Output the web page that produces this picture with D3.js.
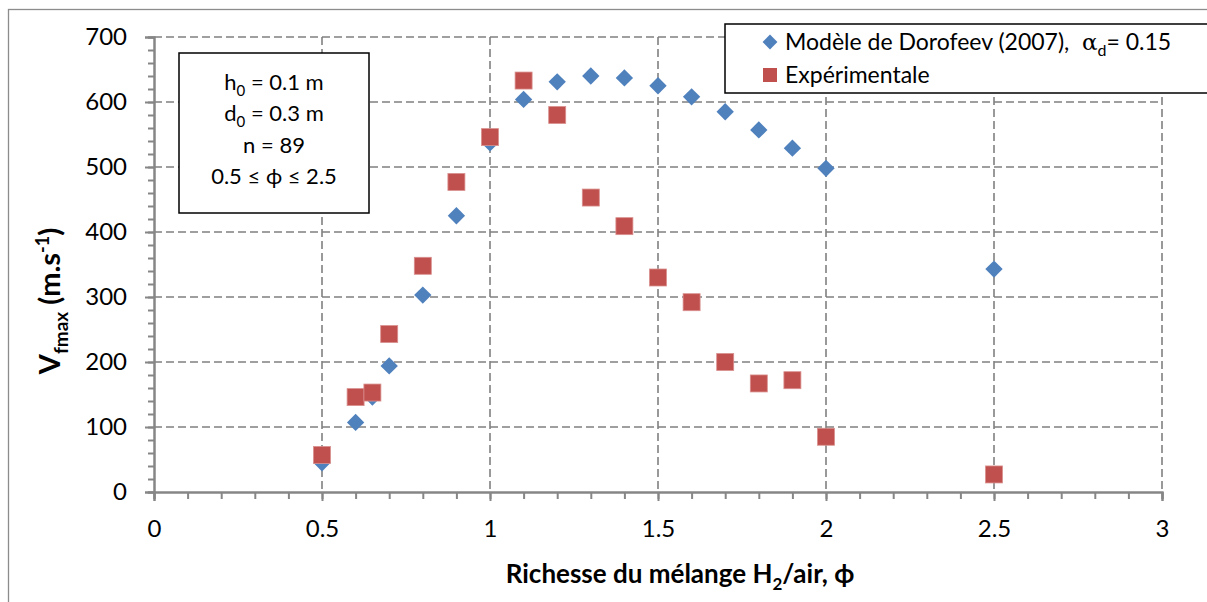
<!DOCTYPE html>
<html>
<head>
<meta charset="utf-8">
<script src="https://cdn.jsdelivr.net/npm/d3@7"></script>
<style>
  html, body { margin: 0; padding: 0; background: #fff; }
  svg { display: block; }
  text { font-family: Lato, "Open Sans", sans-serif; fill: #000; }
</style>
</head>
<body>
<svg id="chart" width="1207" height="602"></svg>
<script>
// ---- data ----
const phiModel = [0.5, 0.6, 0.65, 0.7, 0.8, 0.9, 1.0, 1.1, 1.2, 1.3, 1.4, 1.5, 1.6, 1.7, 1.8, 1.9, 2.0, 2.5];
const vModel   = [45, 107, 146, 194, 303, 425, 537, 604, 631, 640, 637, 625, 608, 585, 557, 529, 498, 343];
const phiExp   = [0.5, 0.6, 0.65, 0.7, 0.8, 0.9, 1.0, 1.1, 1.2, 1.3, 1.4, 1.5, 1.6, 1.7, 1.8, 1.9, 2.0, 2.5];
const vExp     = [57, 146, 153, 243, 348, 477, 546, 633, 580, 453, 409, 330, 292, 200, 167, 172, 85, 27];
const xTicks = [0, 0.5, 1, 1.5, 2, 2.5, 3];
const xTickLabels = ["0", "0.5", "1", "1.5", "2", "2.5", "3"];
const yTicks = [0, 100, 200, 300, 400, 500, 600, 700];

const svg = d3.select("#chart");
const L = 154, R = 1162, T = 37, B = 492;
const x = d3.scaleLinear().domain([0, 3]).range([L, R]);
const y = d3.scaleLinear().domain([0, 700]).range([B, T]);
const gridColor = "#808080";
const axisColor = "#868686";

// outer chart border
svg.append("rect").attr("x", 8.5).attr("y", 9.5).attr("width", 1220).attr("height", 620)
  .attr("fill", "none").attr("stroke", "#8c8c8c").attr("stroke-width", 1.3);

// gridlines
const grid = svg.append("g");
grid.selectAll("line.h").data(yTicks.filter(d => d > 0)).join("line")
  .attr("x1", L).attr("x2", R).attr("y1", d => y(d)).attr("y2", d => y(d))
  .attr("stroke", gridColor).attr("stroke-width", 1.6).attr("stroke-dasharray", "8,4");
grid.selectAll("line.v").data(xTicks.filter(d => d > 0)).join("line")
  .attr("y1", T).attr("y2", B).attr("x1", d => x(d)).attr("x2", d => x(d))
  .attr("stroke", gridColor).attr("stroke-width", 1.6).attr("stroke-dasharray", "8,4");

// axes
const xAxis = d3.axisBottom(x).tickValues(xTicks).tickFormat((d, i) => xTickLabels[i]).tickSize(9).tickPadding(19);
const xMinor = d3.axisBottom(x).tickValues(d3.range(0, 31).map(i => i / 10)).tickFormat("").tickSize(7);
const yAxis = d3.axisLeft(y).tickValues(yTicks).tickSize(9).tickPadding(18);
const yMinor = d3.axisLeft(y).tickValues(d3.range(0, 36).map(i => i * 20)).tickFormat("").tickSize(6);

function styleAxis(g) {
  g.select(".domain").attr("stroke", axisColor).attr("stroke-width", 2);
  g.selectAll(".tick line").attr("stroke", axisColor).attr("stroke-width", 2);
  g.selectAll(".tick text").attr("font-family", "Lato, sans-serif").attr("font-size", 24).attr("fill", "#000");
}
svg.append("g").attr("transform", `translate(0,${B})`).call(xMinor).call(styleAxis);
svg.append("g").attr("transform", `translate(0,${B})`).call(xAxis).call(styleAxis);
svg.append("g").attr("transform", `translate(${L},0)`).call(yMinor).call(styleAxis);
svg.append("g").attr("transform", `translate(${L},0)`).call(yAxis).call(styleAxis);

// axis titles
const xt = svg.append("text").attr("x", 680).attr("y", 583).attr("text-anchor", "middle")
  .attr("font-weight", "bold").attr("font-size", 26);
xt.append("tspan").text("Richesse du mélange H");
xt.append("tspan").attr("font-size", 17).attr("dy", 7).text("2");
xt.append("tspan").attr("dy", -7).text("/air, ϕ");

const yt = svg.append("text").attr("transform", "translate(60,301) rotate(-90)").attr("text-anchor", "middle")
  .attr("font-weight", "bold").attr("font-size", 29);
yt.append("tspan").text("V");
yt.append("tspan").attr("font-size", 19).attr("dy", 8).text("fmax");
yt.append("tspan").attr("dy", -8).text(" (m.s");
yt.append("tspan").attr("font-size", 18).attr("dy", -11).text("-1");
yt.append("tspan").attr("dy", 11).text(")");

// markers
const diamond = d3.symbol().type(d3.symbolSquare).size(150);
svg.append("g").selectAll("path").data(phiModel).join("path")
  .attr("d", diamond())
  .attr("transform", (d, i) => `translate(${x(d)},${y(vModel[i])}) rotate(45)`)
  .attr("fill", "#4F81BD");

svg.append("g").selectAll("rect").data(phiExp).join("rect")
  .attr("x", d => x(d) - 8.5).attr("y", (d, i) => y(vExp[i]) - 8.5)
  .attr("width", 17).attr("height", 17)
  .attr("fill", "#C0504D").attr("stroke", "#d9918f").attr("stroke-width", 0.8);

// text box
svg.append("rect").attr("x", 179).attr("y", 53).attr("width", 190).attr("height", 160)
  .attr("fill", "#fff").attr("stroke", "#000").attr("stroke-width", 1.5);
const info = svg.append("g").attr("font-size", 22);
function sub(t, main, s, rest) {
  t.append("tspan").text(main);
  t.append("tspan").attr("font-size", 15).attr("dy", 6).text(s);
  t.append("tspan").attr("dy", -6).text(rest);
}
sub(info.append("text").attr("x", 274).attr("y", 90).attr("text-anchor", "middle"), "h", "0", " = 0.1 m");
sub(info.append("text").attr("x", 274).attr("y", 121).attr("text-anchor", "middle"), "d", "0", " = 0.3 m");
info.append("text").attr("x", 274).attr("y", 153).attr("text-anchor", "middle").text("n = 89");
info.append("text").attr("x", 274).attr("y", 184).attr("text-anchor", "middle").text("0.5 ≤ ϕ ≤ 2.5");

// legend
svg.append("rect").attr("x", 725).attr("y", 24).attr("width", 500).attr("height", 69)
  .attr("fill", "#fff").attr("stroke", "#000").attr("stroke-width", 1.5);
svg.append("path").attr("d", d3.symbol().type(d3.symbolSquare).size(110)())
  .attr("transform", "translate(770,42) rotate(45)").attr("fill", "#4F81BD");
svg.append("rect").attr("x", 763).attr("y", 68).attr("width", 14).attr("height", 14).attr("fill", "#C0504D");
const l1 = svg.append("text").attr("x", 785).attr("y", 50).attr("font-size", 23);
l1.append("tspan").text("Modèle de Dorofeev (2007),");
l1.append("tspan").attr("x", 1082).attr("font-family", "'DejaVu Serif', serif").text("α");
l1.append("tspan").attr("font-size", 16).attr("dy", 6).text("d");
l1.append("tspan").attr("dy", -6).text("= 0.15");
svg.append("text").attr("x", 785).attr("y", 83).attr("font-size", 23).text("Expérimentale");
</script>
</body>
</html>
